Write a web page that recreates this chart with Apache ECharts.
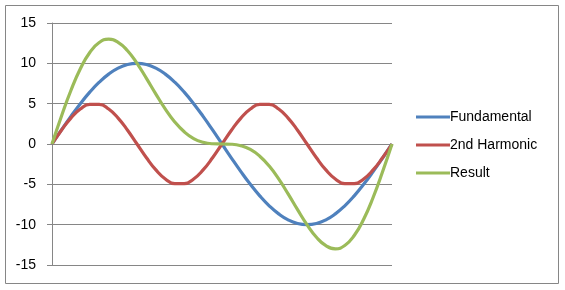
<!DOCTYPE html>
<html><head><meta charset="utf-8">
<script src="https://cdn.jsdelivr.net/npm/echarts@6/dist/echarts.min.js"></script>
<style>html,body{margin:0;padding:0;background:#fff}#c{width:565px;height:290px}</style>
</head><body><div id="c"></div>
<script>
var categories = ['0','10','20','30','40','50','60','70','80','90','100','110','120','130','140','150','160','170','180','190','200','210','220','230','240','250','260','270','280','290','300','310','320','330','340','350','360'];
var fundamental = [0,1.74,3.42,5,6.43,7.66,8.66,9.4,9.85,10,9.85,9.4,8.66,7.66,6.43,5,3.42,1.74,0,-1.74,-3.42,-5,-6.43,-7.66,-8.66,-9.4,-9.85,-10,-9.85,-9.4,-8.66,-7.66,-6.43,-5,-3.42,-1.74,0];
var harmonic2 = [0,1.71,3.21,4.33,4.92,4.92,4.33,3.21,1.71,0,-1.71,-3.21,-4.33,-4.92,-4.92,-4.33,-3.21,-1.71,0,1.71,3.21,4.33,4.92,4.92,4.33,3.21,1.71,0,-1.71,-3.21,-4.33,-4.92,-4.92,-4.33,-3.21,-1.71,0];
var result = [0,3.45,6.63,9.33,11.35,12.58,12.99,12.61,11.56,10,8.14,6.19,4.33,2.74,1.51,0.67,0.21,0.03,0,-0.03,-0.21,-0.67,-1.51,-2.74,-4.33,-6.19,-8.14,-10,-11.56,-12.61,-12.99,-12.58,-11.35,-9.33,-6.63,-3.45,0];
var yTicks = [-15,-10,-5,0,5,10,15];

var chart = echarts.init(document.getElementById('c'), null, {renderer:'canvas'});
var font = 'Liberation Sans, Arial, sans-serif';
function s(name, data, color){
  return {name:name, type:'line', data:data, smooth:0.5, symbol:'none',
    lineStyle:{color:color, width:3.2}, itemStyle:{color:color}};
}
chart.setOption({
  animation:false,
  graphic:[{type:'rect', shape:{x:5.5,y:5.5,width:553,height:278}, style:{fill:null, stroke:'#868686', lineWidth:1}, z:-1}],
  grid:{left:52, right:173, top:23, bottom:25},
  legend:{orient:'vertical', left:411, top:105, itemWidth:34, itemHeight:3, itemGap:14,
    icon:'rect',
    textStyle:{fontFamily:font, fontSize:14, color:'#000', padding:[0,0,0,-5]},
    data:['Fundamental','2nd Harmonic','Result']},
  xAxis:{type:'category', data:categories, boundaryGap:false,
    axisLine:{show:true, onZero:true, lineStyle:{color:'#868686'}},
    axisTick:{show:false}, axisLabel:{show:false}, splitLine:{show:false}},
  yAxis:{type:'value', min:yTicks[0], max:yTicks[yTicks.length-1], interval:5,
    axisLine:{show:true, lineStyle:{color:'#868686'}},
    axisTick:{show:true, length:5, lineStyle:{color:'#868686'}},
    axisLabel:{fontFamily:font, fontSize:14, color:'#000', margin:16},
    splitLine:{show:true, lineStyle:{color:'#868686', width:1}}},
  series:[s('Fundamental', fundamental, '#4F81BD'), s('2nd Harmonic', harmonic2, '#C0504D'), s('Result', result, '#9BBB59')]
});
</script></body></html>
